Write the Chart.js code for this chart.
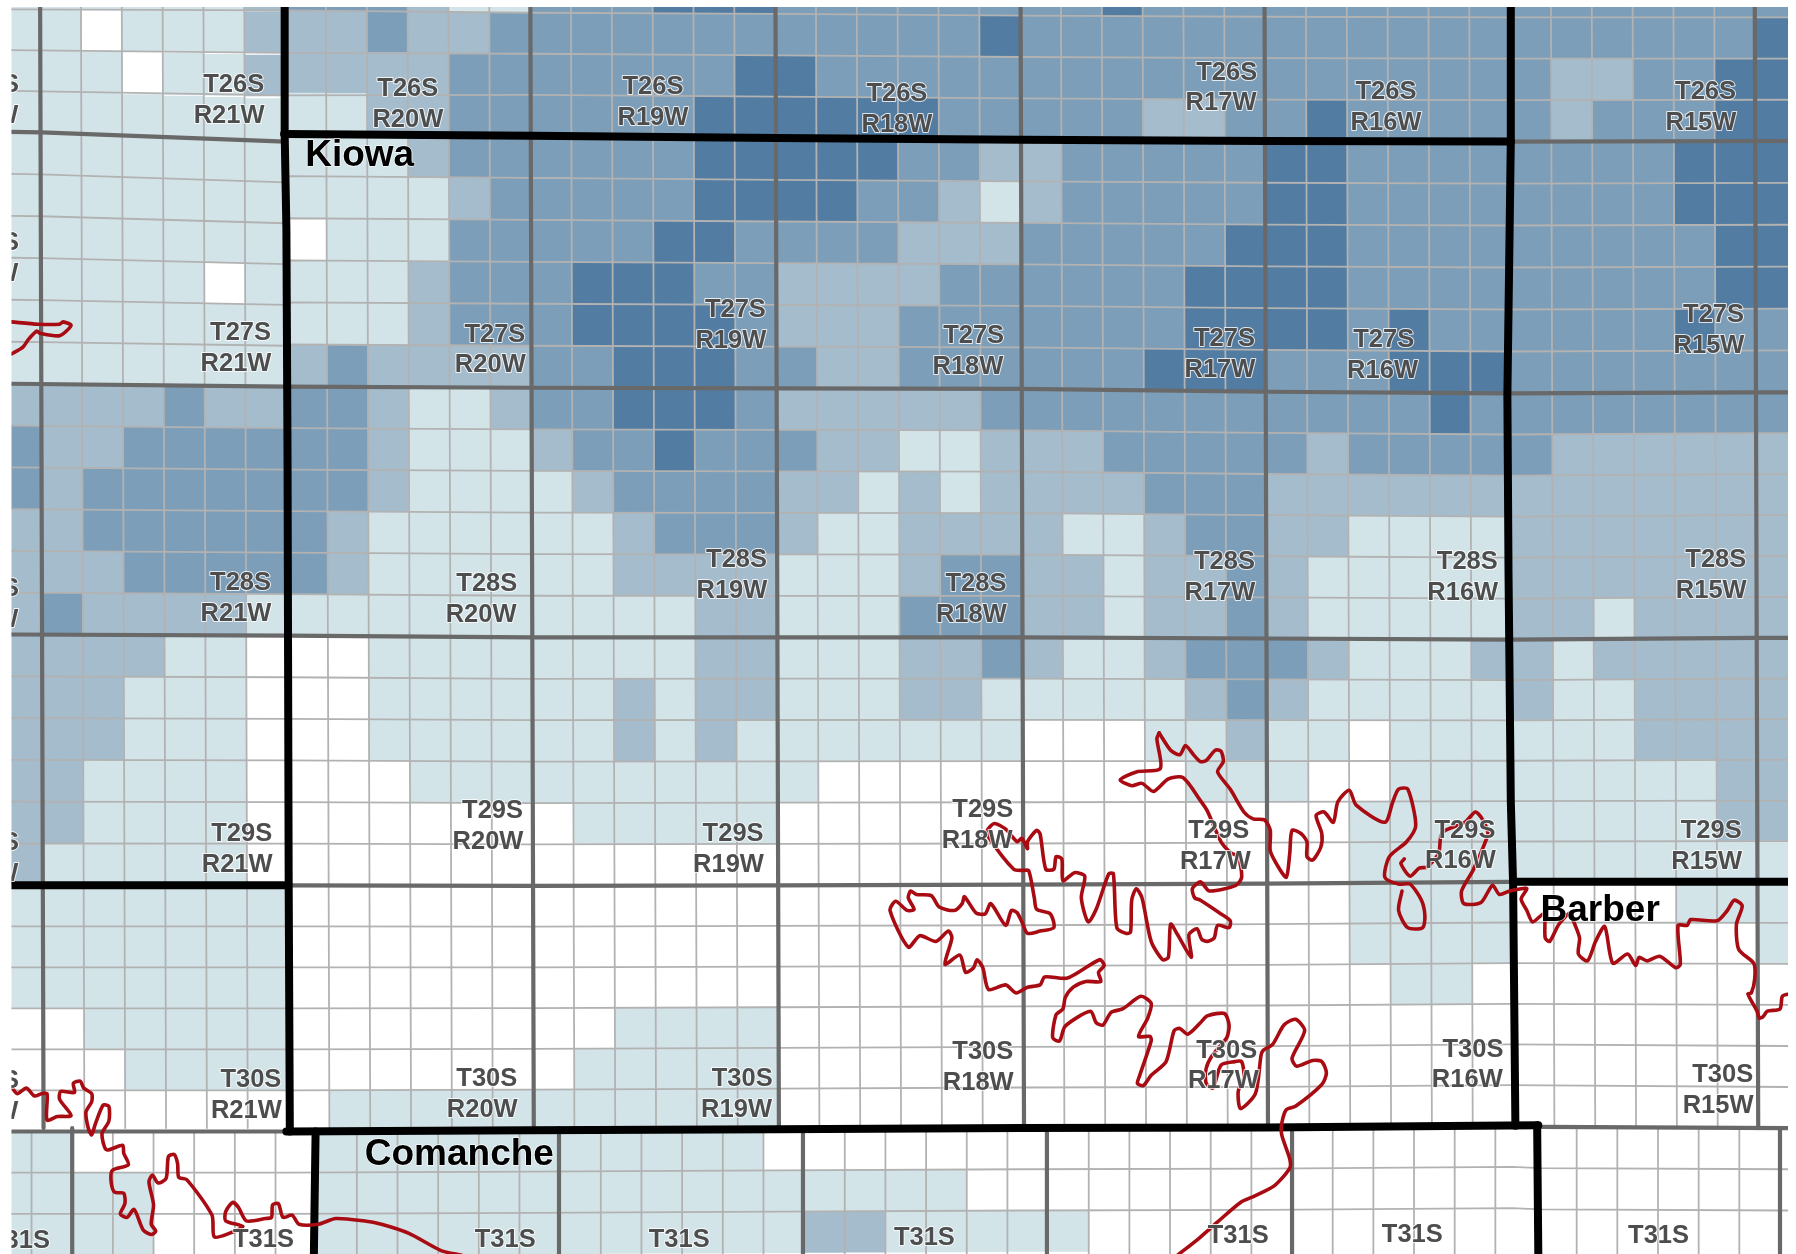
<!DOCTYPE html>
<html>
<head>
<meta charset="utf-8">
<style>
  html, body { margin: 0; padding: 0; background: #fff; }
  canvas { display: block; }
</style>
<script src="https://cdn.jsdelivr.net/npm/chart.js@4"></script>
</head>
<body>
<canvas id="map" width="1796" height="1254"></canvas>
<script>
// class of each section, west to east: 0 white ... 4 darkest
const t26Rows = [
  '111111 2 333 2 11 33 3 444 33333333 4 3333333333333333',
  '110111 2 22 3 22 3 33333333333 4 333333333333333333 4',
  '111011 2 2222 33 33333 44 333333333333333333 22 33 44',
  '111111111 22 333333 444444 33333 22 33 4 33333 2 333 44'
];
const t27Rows = [
  '1111111 111 2 333333 44444 33 22 33333 44 33333333 444',
  '11111111111 2 33333 4444 33 2 1 2 33333 44 33333333 444',
  '1111111 0 111 33333 44 3333 222 33333 444 333333333 44',
  '11111 0 1 111 2 333 444 33 2222 333333 4444 333333333 44',
  '1111111111 2 333 4444 3 222 3333333 4444 3 4 333333 4 33',
  '1111111 2 3 2222 33 444 33 22 333333 444 333 444 3333333'
];
const t28Rows = [
  '2222 3 22 33 2 11 2 33 444 3 22222 33333333333 4 33333333',
  '3 22 333333 2 111 2 33 4 333 22 11 222 33333 2 33333 222222',
  '3 2 3333333 2 1111 2 3333 22 1 2 1 2222 333 2222222222222',
  '22 333333 2 111111 2 333 2 11 2222 11 2 33 22 1111 2222222',
  '222 33333 2 111111 2222 111 2 33 22 1 22 3 2 11111 2222222',
  '2 3 2222 11111111111 22 111 333 22 1 22 3 2 11111 22 1 2222'
];
const t29Rows = [
  '2222 11 000 11111111 22 111 22 3 2 11 2 333 2 111 22 1 22222',
  '222 111 000 111111 2 1 22 111 22 11111 2 3 2 11111 2 11 2222',
  '222 111 000 111111 2 1 2 1111111 000 11 2 11 0 111111 2222',
  '22 1111 0000 1111111111 000000000 111 00 11111111 22',
  '22 1111 00000000 11111 00000000000000 111111111 22',
  '2 11111 000000000000000000000000000 11111111111'
];
const t30Rows = [
  '1111111 00000000000000000000000000 1111 0000 111',
  '1111111 00000000000000000000000000 1111 000000 1',
  '1111111 000000000000000000000000000 11 00000000',
  '00 11111 00000000 1111 0000000000000000000000000',
  '000 1111 0000000 11111 0000000000000000000000000',
  '00000000 11111111111 0000000000000000000000000'
];
// Comanche county row sits half a section further east
const t31Rows = [
  '11 000000 11111111111 00000000000000000000000000',
  '1111 0000 1111111111111111 000000000000000000000',
  '1111 0000 111111111111 22 11111 000000000000000000'
];

const levelColors = ['#ffffff', '#d3e4e9', '#a5bccd', '#7c9eb8', '#527ca1'];

// township lines, in map units
const line0 = [[10,8],[250,9],[464,11],[678,12],[892,13.5],[1105,14.5],[1318,15],[1561,15]];
const line1 = [[10,115],[36,115.5],[249,123.5],[251,117],[464,118.5],[678,120.5],[892,122],[1105,123],[1318,123.5],[1561,123]];
const line2 = [[10,335],[250,337.5],[464,338.5],[678,339],[892,339.5],[1105,342],[1318,343.5],[1533,342.5],[1561,342.5]];
const line3 = [[10,554],[250,555],[464,556.5],[678,556.5],[892,556.5],[1105,557.5],[1318,558.5],[1533,557],[1561,557]];
const line4 = [[10,773],[250,773],[464,773.5],[678,773],[892,772.5],[1105,771.5],[1318,770],[1561,770]];
const line5 = [[10,988],[250,988],[464,987],[678,986],[892,985],[1105,984.5],[1320,983],[1345,984],[1561,985]];

// the red outline, traced by hand
const redNorthWest = [[10,281],[33,283],[52,283],[55,281],[62,284],[52,293],[35,291],[32,289],[25,296],[20,303],[10,309]];
const redSouthWest = [[10,949],[15,955],[23,950],[30,957],[36,955],[41,955],[41,978],[50,975],[62,974],[52,960],[53,953],[65,954],[64,946],[70,944],[73,950],[80,955],[80,962],[75,971],[77,985],[80,991],[83,982],[90,965],[95,966],[95,979],[89,990],[93,1004],[107,1000],[108,1007],[112,1017],[98,1022],[97,1032],[100,1041],[108,1042],[109,1051],[105,1060],[111,1063],[117,1056],[125,1074],[132,1078],[136,1075],[132,1069],[134,1052],[130,1032],[133,1026],[138,1033],[145,1029],[147,1010],[152,1008],[155,1016],[156,1028],[163,1030],[185,1061],[187,1080],[200,1077],[212,1071],[197,1066],[197,1058],[203,1050],[208,1054],[215,1066],[232,1064],[237,1063],[238,1052],[243,1051],[247,1063],[255,1061],[261,1069],[278,1069],[293,1064],[317,1066],[333,1069],[357,1077],[385,1092],[403,1096]];
const redCentral = [[1012,640],[1010,645],[1013,671],[992,674],[978,681],[988,686],[997,684],[1007,691],[1020,680],[1033,679],[1048,699],[1054,708],[1066,735],[1075,745],[1081,748],[1084,766],[1079,773],[1056,778],[1048,770],[1041,776],[1043,784],[1048,786],[1066,798],[1074,804],[1073,810],[1063,808],[1060,819],[1054,822],[1049,820],[1045,811],[1038,816],[1040,836],[1028,816],[1022,807],[1020,836],[1015,838],[1005,822],[997,784],[992,776],[988,786],[987,814],[983,815],[975,810],[972,763],[968,763],[957,794],[950,805],[944,784],[947,765],[938,762],[928,769],[927,750],[922,748],[920,759],[913,759],[908,728],[905,725],[897,735],[897,741],[892,732],[888,735],[878,724],[868,719],[862,725],[863,731],[885,759],[893,760],[898,760],[903,784],[905,794],[917,798],[920,810],[908,813],[897,815],[893,807],[888,797],[883,795],[878,808],[865,789],[860,798],[852,797],[842,783],[840,789],[833,795],[820,792],[813,782],[800,781],[795,778],[793,784],[798,794],[792,795],[782,787],[777,795],[793,827],[803,817],[817,822],[828,813],[831,819],[825,842],[838,834],[843,849],[850,845],[853,838],[858,845],[863,864],[878,860],[887,867],[897,862],[908,860],[912,853],[932,854],[960,838],[964,843],[959,849],[961,857],[948,857],[937,862],[930,871],[928,881],[922,886],[919,906],[925,909],[930,896],[952,883],[957,893],[963,895],[970,884],[980,881],[996,870],[1005,876],[1002,889],[994,905],[1004,905],[1005,909],[995,939],[993,946],[998,948],[1005,939],[1018,927],[1025,900],[1030,898],[1037,903],[1048,893],[1054,887],[1069,885],[1073,895],[1071,906],[1058,922],[1053,933],[1053,946],[1059,950],[1066,930],[1078,927],[1084,927],[1086,941],[1081,953],[1083,968],[1096,955],[1101,921],[1103,917],[1111,912],[1121,895],[1131,890],[1139,900],[1128,924],[1132,931],[1146,926],[1154,927],[1158,937],[1154,947],[1131,966],[1123,969],[1119,981],[1119,991],[1126,1012],[1126,1020],[1113,1035],[1096,1044],[1083,1050],[1063,1067],[1046,1082],[1028,1096]];
const redNorthEast = [[1012,640],[1022,655],[1030,659],[1035,651],[1042,659],[1048,665],[1053,664],[1061,655],[1066,656],[1068,665],[1063,674],[1074,689],[1086,709],[1094,715],[1104,716],[1109,725],[1109,743],[1116,757],[1123,766],[1126,745],[1128,725],[1136,728],[1141,735],[1141,748],[1146,751],[1153,740],[1154,728],[1149,712],[1156,709],[1164,718],[1168,700],[1178,690],[1184,703],[1209,718],[1216,700],[1221,689],[1229,689],[1236,721],[1228,735],[1213,748],[1209,766],[1221,772],[1231,772],[1241,786],[1244,800],[1242,810],[1229,810],[1221,795],[1224,778]];
const redEast = [[1226,750],[1223,754],[1231,765],[1239,758],[1246,757],[1256,745],[1259,727],[1279,718],[1288,709],[1294,715],[1299,727],[1296,737],[1286,760],[1276,778],[1278,789],[1293,788],[1303,773],[1309,781],[1318,778],[1328,776],[1333,776],[1328,785],[1333,795],[1338,805],[1348,798],[1349,819],[1353,822],[1361,807],[1371,797],[1374,805],[1379,819],[1378,833],[1386,839],[1393,822],[1401,809],[1408,841],[1421,833],[1428,843],[1431,836],[1438,839],[1449,835],[1463,845],[1467,842],[1465,808],[1473,808],[1476,803],[1499,804],[1508,795],[1514,786],[1521,791],[1516,807],[1518,829],[1531,841],[1532,854],[1529,867],[1526,868],[1534,883],[1536,889],[1539,888],[1543,883],[1554,881],[1556,870],[1561,868]];

// township label, range label
const townshipLabels = [
  ['T26S',-10,73,'R22W',-15,100], ['T26S',204,73,'R21W',200,100], ['T26S',356,77,'R20W',356,104], ['T26S',570,75,'R19W',570,102], ['T26S',783,81,'R18W',783,108], ['T26S',1071,63,'R17W',1066,89], ['T26S',1210,79,'R16W',1210,106], ['T26S',1489,79,'R15W',1485,106],
  ['T27S',-10,211,'R22W',-15,238], ['T27S',210,290,'R21W',206,317], ['T27S',432,291,'R20W',428,318], ['T27S',642,270,'R19W',638,297], ['T27S',850,292,'R18W',845,319], ['T27S',1069,295,'R17W',1065,322], ['T27S',1208,296,'R16W',1207,323], ['T27S',1496,274,'R15W',1492,301],
  ['T28S',-10,513,'R22W',-15,540], ['T28S',210,508,'R21W',206,535], ['T28S',425,509,'R20W',420,536], ['T28S',643,488,'R19W',639,515], ['T28S',852,509,'R18W',848,536], ['T28S',1069,490,'R17W',1065,517], ['T28S',1281,490,'R16W',1277,517], ['T28S',1498,488,'R15W',1494,515],
  ['T29S',-10,735,'R22W',-15,762], ['T29S',211,727,'R21W',207,754], ['T29S',430,707,'R20W',426,734], ['T29S',640,727,'R19W',636,754], ['T29S',858,706,'R18W',853,733], ['T29S',1064,725,'R17W',1061,752], ['T29S',1279,725,'R16W',1275,751], ['T29S',1494,725,'R15W',1490,752],
  ['T30S',-10,943,'R22W',-15,970], ['T30S',219,942,'R21W',215,969], ['T30S',425,941,'R20W',421,968], ['T30S',648,941,'R19W',643,968], ['T30S',858,918,'R18W',854,945], ['T30S',1071,917,'R17W',1068,943], ['T30S',1286,916,'R16W',1281,942], ['T30S',1504,938,'R15W',1500,965],
  ['T31S',17,1083], ['T31S',230,1082], ['T31S',441,1082], ['T31S',593,1082], ['T31S',807,1080], ['T31S',1081,1078], ['T31S',1233,1077], ['T31S',1448,1078]
];
const countyLabels = [['Kiowa',314,135], ['Comanche',401,1007], ['Barber',1397,794]];

const sectionW = 35.65;
const sectionH = 36;
const westEdge = 35;

// y of a township line at a given x
function lineAt(line, x) {
  for (let i = 1; i < line.length; i++) {
    if (x <= line[i][0]) {
      const a = line[i - 1], b = line[i];
      return a[1] + (b[1] - a[1]) * (x - a[0]) / (b[0] - a[0]);
    }
  }
  return line[line.length - 1][1];
}
// the meridians lean a little to the east going south
const lean = y => (y - 8) * 3 / 980;
const parseRow = row => row.replace(/ /g, '').split('').map(Number);

const cellPoints = levelColors.map(() => []);

function addBand(rows, top, bottom, count) {
  rows.forEach((row, r) => {
    parseRow(row).forEach((level, c) => {
      if (!level) return;
      const x = c === 0 ? westEdge - sectionW / 2 : westEdge + (c - 0.5) * sectionW;
      const f = (r + 0.5) / count;
      const yTop = lineAt(top, x), yBot = lineAt(bottom, x);
      const y = yTop + (yBot - yTop) * f;
      cellPoints[level].push({ x: x + lean(y), y });
    });
  });
}

// t26 has the sliver row above line0, so it goes first with a negative fraction
parseRow(t26Rows[0]).forEach((level, c) => {
  if (!level) return;
  const x = c === 0 ? westEdge - sectionW / 2 : westEdge + (c - 0.5) * sectionW;
  cellPoints[level].push({ x, y: lineAt(line0, x) - sectionH / 2 });
});
addBand(t26Rows.slice(1), line0, line1, 3);
addBand(t27Rows, line1, line2, 6);
addBand(t28Rows, line2, line3, 6);
addBand(t29Rows, line3, line4, 6);
addBand(t30Rows, line4, line5, 6);

const comancheWest = 63 - 2 * 35.5;
t31Rows.forEach((row, r) => {
  parseRow(row).forEach((level, j) => {
    if (!level) return;
    const x = comancheWest + (j + 0.5) * 35.5;
    cellPoints[level].push({ x, y: lineAt(line5, x) + (r + 0.5) * sectionH });
  });
});

const datasets = [];
const toPoints = pts => pts.map(p => ({ x: p[0], y: p[1] }));

function addLine(pts, color, width, order, tension = 0) {
  datasets.push({
    data: toPoints(pts), showLine: true, borderColor: color, borderWidth: width,
    pointRadius: 0, tension, order, clip: 0,
    borderJoinStyle: 'round', borderCapStyle: 'round'
  });
}

cellPoints.forEach((pts, level) => {
  if (!level) return;
  datasets.push({
    data: pts, backgroundColor: levelColors[level], borderWidth: 0,
    pointStyle: 'rect', pointRadius: 29.4, pointHoverRadius: 29.4, order: 50, clip: 0
  });
});

const thin = '#b2b2b2', grey = '#696969', black = '#000000', red = '#a80b12';
const topY = 6, bottomY = 1095;

// thin section lines
for (let c = 0; c <= 43; c++) {
  const x = westEdge + c * sectionW;
  if ((c % 6) === 0) continue;
  addLine([[x, topY], [x + lean(985), 985]], thin, 1.8, 40);
}
const bands = [[line0, line1, 3], [line1, line2, 6], [line2, line3, 6], [line3, line4, 6], [line4, line5, 6]];
bands.forEach(([a, b, n]) => {
  for (let k = 1; k < n; k++) {
    addLine(a.map(p => [p[0], p[1] + (lineAt(b, p[0]) - p[1]) * k / n]), thin, 1.8, 40);
  }
});
addLine(line0, thin, 1.8, 40);
for (let j = 1; j < 45; j++) {
  if ((j - 2) % 6 === 0) continue;
  const x = comancheWest + j * 35.5;
  addLine([[x, lineAt(line5, x)], [x, bottomY]], thin, 1.8, 40);
}
[1, 2].forEach(k => addLine(line5.map(p => [p[0], p[1] + k * sectionH]), thin, 1.8, 40));

// township lines
[35, 463, 677, 891, 1104, 1532].forEach(x => {
  addLine([[x, topY], [x + lean(985), 985]], grey, 4.2, 30);
});
[63, 488, 701, 914, 1128, 1554].forEach(x => {
  addLine([[x, 985], [x, bottomY]], grey, 4.2, 30);
});
addLine(line2, grey, 4.2, 30);
addLine(line3, grey, 4.2, 30);
addLine(line1.filter(p => p[0] < 250), grey, 4.2, 30);
addLine(line1.filter(p => p[0] >= 1318), grey, 4.2, 30);
addLine(line4.filter(p => p[0] >= 250 && p[0] <= 1318), grey, 4.2, 30);
addLine(line5.filter(p => p[0] <= 250), grey, 4.2, 30);
addLine(line5.filter(p => p[0] >= 1345), grey, 4.2, 30);

// county lines
addLine([[248.5, topY], [248.5, 117], [250, 200], [251, 400], [252, 773], [253, 988]], black, 8, 20);
addLine([[248, 117], [464, 118.5], [678, 120.5], [892, 122], [1105, 123], [1319, 123.5]], black, 8, 20);
addLine([[1319, topY], [1319, 123], [1316, 345], [1317, 500], [1319, 700], [1321, 772], [1323, 983]], black, 8, 20);
addLine([[10, 773], [250, 773]], black, 8, 20);
addLine([[1321, 770], [1561, 770]], black, 8, 20);
addLine([[250, 988], [464, 987], [678, 986], [892, 985], [1105, 984.5], [1343, 982.5]], black, 8, 20);
addLine([[275.5, 988], [274, bottomY]], black, 8, 20);
addLine([[1342, 982.5], [1343, bottomY]], black, 8, 20);

// red outline
[redNorthWest, redSouthWest, redCentral, redNorthEast, redEast].forEach(r => addLine(r, red, 3.6, 10, 0.25));

const mapText = {
  id: 'mapText',
  afterDatasetsDraw(chart) {
    const { ctx, chartArea, scales } = chart;
    ctx.save();
    ctx.beginPath();
    ctx.rect(chartArea.left, chartArea.top, chartArea.right - chartArea.left, chartArea.bottom - chartArea.top);
    ctx.clip();
    ctx.textAlign = 'center';
    ctx.textBaseline = 'middle';
    ctx.lineJoin = 'round';

    const put = (text, x, y, color, halo) => {
      const px = scales.x.getPixelForValue(x), py = scales.y.getPixelForValue(y);
      ctx.lineWidth = halo;
      ctx.strokeStyle = 'rgba(255,255,255,0.8)';
      ctx.strokeText(text, px, py);
      ctx.fillStyle = color;
      ctx.fillText(text, px, py);
    };

    ctx.font = 'bold 25.5px "Liberation Sans", Arial, sans-serif';
    townshipLabels.forEach(l => {
      put(l[0], l[1], l[2] + 1, '#4d4d4d', 2);
      if (l.length > 3) put(l[3], l[4], l[5] + 1, '#4d4d4d', 2);
    });
    ctx.font = 'bold 37px "Liberation Sans", Arial, sans-serif';
    countyLabels.forEach(l => put(l[0], l[1], l[2] + 1, '#000000', 1.5));
    ctx.restore();
  }
};

new Chart(document.getElementById('map'), {
  type: 'scatter',
  data: { datasets },
  plugins: [mapText],
  options: {
    responsive: false,
    animation: false,
    devicePixelRatio: 1,
    layout: { autoPadding: false, padding: { left: 11.5, top: 7, right: 8, bottom: 0 } },
    plugins: { legend: { display: false }, tooltip: { enabled: false } },
    events: [],
    scales: {
      x: { type: 'linear', display: false, min: 10, max: 1561 },
      y: { type: 'linear', display: false, reverse: true, min: 6, max: 1095 }
    }
  }
});
</script>
</body>
</html>
